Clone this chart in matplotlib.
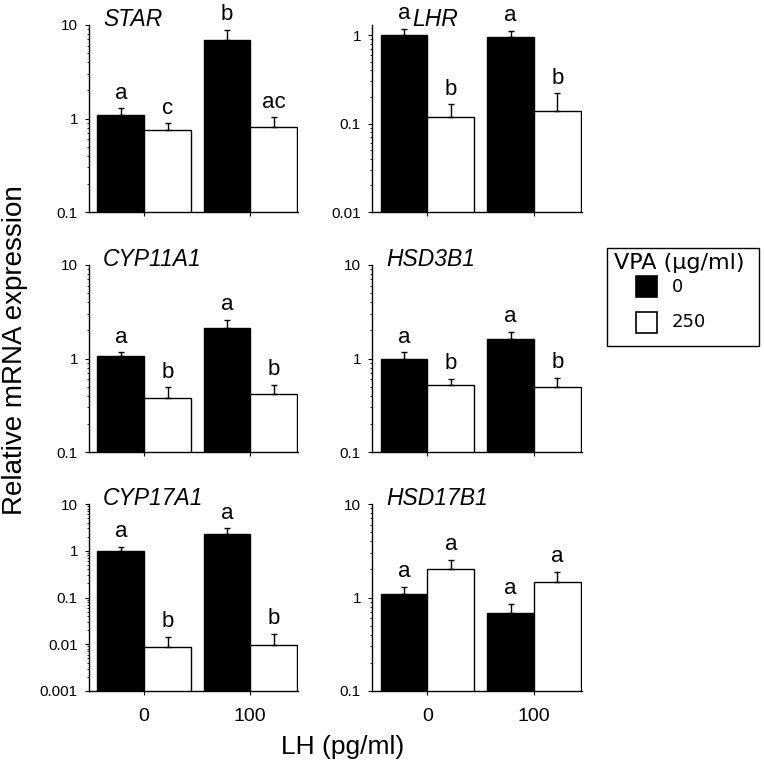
import numpy as np
import matplotlib
matplotlib.use("Agg")
import matplotlib.pyplot as plt
from matplotlib.patches import Rectangle
from matplotlib.ticker import FuncFormatter, NullFormatter, LogLocator

plt.rcParams['font.family'] = ['Liberation Sans', 'DejaVu Sans']

# data
lh_levels = ["0", "100"]
vpa_levels = ["0", "250"]
genes = ["STAR", "LHR", "CYP11A1", "HSD3B1", "CYP17A1", "HSD17B1"]

# order: LH0/VPA0, LH0/VPA250, LH100/VPA0, LH100/VPA250
star_mean = [1.10, 0.76, 6.9, 0.82]
star_err = [0.18, 0.13, 2.0, 0.21]
star_sig = ["a", "c", "b", "ac"]

lhr_mean = [1.0, 0.12, 0.95, 0.14]
lhr_err = [0.18, 0.045, 0.16, 0.08]
lhr_sig = ["a", "b", "a", "b"]

cyp11_mean = [1.07, 0.38, 2.10, 0.42]
cyp11_err = [0.09, 0.11, 0.47, 0.10]
cyp11_sig = ["a", "b", "a", "b"]

hsd3_mean = [1.0, 0.52, 1.62, 0.50]
hsd3_err = [0.16, 0.09, 0.32, 0.12]
hsd3_sig = ["a", "b", "a", "b"]

cyp17_mean = [1.0, 0.0088, 2.27, 0.0098]
cyp17_err = [0.20, 0.0056, 0.74, 0.0066]
cyp17_sig = ["a", "b", "a", "b"]

hsd17_mean = [1.10, 2.04, 0.68, 1.45]
hsd17_err = [0.20, 0.47, 0.17, 0.43]
hsd17_sig = ["a", "a", "a", "a"]

ylims = [(0.1, 10), (0.01, 1.3), (0.1, 10), (0.1, 10), (0.001, 10), (0.1, 10)]
means = [star_mean, lhr_mean, cyp11_mean, hsd3_mean, cyp17_mean, hsd17_mean]
errs = [star_err, lhr_err, cyp11_err, hsd3_err, cyp17_err, hsd17_err]
sigs = [star_sig, lhr_sig, cyp11_sig, hsd3_sig, cyp17_sig, hsd17_sig]
label_dx = [10, 29, 10, 10, 10, 10]

W, H = 764, 765
fig = plt.figure(figsize=(W / 100, H / 100), dpi=100)


def fx(px):
    return px / W


def fy(py):
    return 1 - py / H


col_x = [fx(89), fx(372)]
col_w = [209 / W, 210 / W]
row_b = [fy(212), fy(452), fy(691)]
row_h = 187 / H

w = 0.44
x = np.arange(len(lh_levels))

for i, gene in enumerate(genes):
    r, c = divmod(i, 2)
    ax = fig.add_axes([col_x[c], row_b[r], col_w[c], row_h])
    m = means[i]
    e = errs[i]
    xb = x - w / 2
    xw = x + w / 2
    ax.bar(xb, [m[0], m[2]], w, color="black", edgecolor="black", linewidth=1)
    ax.bar(xw, [m[1], m[3]], w, color="white", edgecolor="black", linewidth=1)
    xs = [xb[0], xw[0], xb[1], xw[1]]
    ax.errorbar(xs, m, yerr=[np.zeros(4), e], fmt="none", ecolor="black",
                elinewidth=1, capsize=2, capthick=1)
    for xi, mi, ei, s in zip(xs, m, e, sigs[i]):
        ax.annotate(s, (xi, mi + ei), xytext=(0, 7), textcoords="offset points",
                    ha="center", va="baseline", fontsize=16)
    ax.set_yscale("log")
    ax.set_ylim(*ylims[i])
    ax.set_xlim(-0.52, 1.45)
    ax.yaxis.set_major_locator(LogLocator(base=10))
    ax.yaxis.set_major_formatter(FuncFormatter(lambda v, p: "{:g}".format(v)))
    ax.yaxis.set_minor_formatter(NullFormatter())
    ax.set_xticks(x)
    if r == 2:
        ax.set_xticklabels(lh_levels, fontsize=14)
    else:
        ax.set_xticklabels([])
    ax.tick_params(axis="x", length=3, pad=9, direction="out")
    ax.tick_params(axis="y", which="major", length=3, pad=5, labelsize=11)
    ax.tick_params(axis="y", which="minor", length=1.5)
    for sp in ["top", "right"]:
        ax.spines[sp].set_visible(False)
    for sp in ["left", "bottom"]:
        ax.spines[sp].set_linewidth(1)
    ax.annotate(gene, (0, 1), xycoords="axes fraction",
                xytext=(label_dx[i], 4), textcoords="offset points",
                ha="left", va="center", fontsize=16.5, style="italic")

fig.text(fx(15), fy(350), "Relative mRNA expression", rotation=90,
         ha="center", va="center", fontsize=20)
fig.text(fx(343), fy(747), "LH (pg/ml)", ha="center",
         va="center", fontsize=19)

# legend box drawn by hand
fig.add_artist(Rectangle((fx(607), fy(346)), 152 / W, 98 / H,
                         transform=fig.transFigure, facecolor="white",
                         edgecolor="black", linewidth=1))
fig.text(fx(614), fy(263), "VPA (\u00b5g/ml)", ha="left", va="center",
         fontsize=16, family="DejaVu Sans")
sq_y = [287, 322]
sq_col = ["black", "white"]
for lab, yy, col in zip(vpa_levels, sq_y, sq_col):
    fig.add_artist(Rectangle((fx(636), fy(yy + 10.5)), 21 / W, 21 / H,
                             transform=fig.transFigure, facecolor=col,
                             edgecolor="black", linewidth=1.2))
    fig.text(fx(672), fy(yy), lab, ha="left", va="center", fontsize=13,
             family="DejaVu Sans")

fig.savefig("out.png", dpi=100)
